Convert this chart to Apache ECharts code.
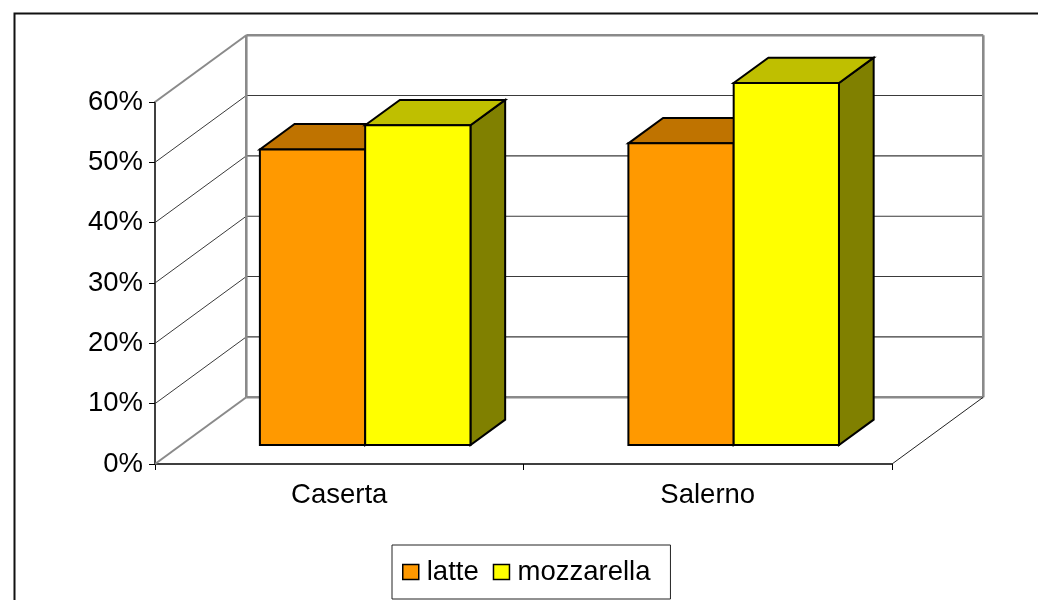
<!DOCTYPE html>
<html>
<head>
<meta charset="utf-8">
<title>latte / mozzarella</title>
<script src="https://cdn.jsdelivr.net/npm/echarts@6/dist/echarts.min.js"></script>
<style>
  html, body { margin: 0; padding: 0; background: #fff; }
  #chart { width: 1038px; height: 600px; }
</style>
</head>
<body>
<div id="chart"></div>
<script>
// Data
const categories = ['Caserta', 'Salerno'];
const latte = [0.49, 0.50];
const mozzarella = [0.53, 0.60];
const yTicks = [0, 0.1, 0.2, 0.3, 0.4, 0.5, 0.6];

// 3D projection: depth vector of the plot box (pixels), and where the bars sit in depth
const DX = 91.3, DY = -66.8;
const BAR_FRONT = 0.284;   // fraction of depth where bar front faces lie
const BAR_DEPTH = 0.38;    // bar thickness as fraction of depth
const GAP = 1.5;           // gap width relative to one bar

const FONT = "'Liberation Sans', Arial, sans-serif";
const FS = 27.5;

const palette = {
  latte: { front: '#FF9900', top: '#BF7300', side: '#804C00' },
  mozzarella: { front: '#FFFF00', top: '#BFBF00', side: '#808000' }
};

const chart = echarts.init(document.getElementById('chart'), null, { renderer: 'canvas' });

function line(x1, y1, x2, y2, color, width) {
  return { type: 'line', shape: { x1, y1, x2, y2 }, style: { stroke: color, lineWidth: width }, silent: true };
}

// Back wall grid lines and side-wall diagonals, one per tick
function renderGrid(params, api) {
  const cs = params.coordSys;
  const v = api.value(1);
  const y = api.coord([0, v])[1];
  const x0 = cs.x, x1 = cs.x + cs.width;
  const edge = (v === yTicks[0] || v === yTicks[yTicks.length - 1]);
  const col = edge ? '#8a8a8a' : '#3a3a3a';
  const w = edge ? 2.4 : 1.1;
  return {
    type: 'group',
    children: [
      line(x0 + DX, y + DY, x1 + DX, y + DY, col, w),
      line(x0, y, x0 + DX, y + DY, col, edge ? 2 : 1)
    ]
  };
}

// Wall outline: back wall vertical edges and floor right edge
function renderWalls(params, api) {
  const cs = params.coordSys;
  const x0 = cs.x, x1 = cs.x + cs.width, yT = cs.y, yB = cs.y + cs.height;
  return {
    type: 'group',
    children: [
      line(x0 + DX, yT + DY, x0 + DX, yB + DY, '#8a8a8a', 2.6),
      line(x1 + DX, yT + DY, x1 + DX, yB + DY, '#8a8a8a', 2.6),
      line(x1, yB, x1 + DX, yB + DY, '#222', 1)
    ]
  };
}

function makeBarRenderer(slot, colors) {
  return function (params, api) {
    const i = api.value(0), v = api.value(1);
    const base = api.coord([i, 0]);
    const top = api.coord([i, v]);
    const catW = api.size([1, 0])[0];
    const bw = catW / (2 + GAP);
    const left = base[0] + (slot === 0 ? -bw : 0) + BAR_FRONT * DX;
    const right = left + bw;
    const yb = base[1] + BAR_FRONT * DY;
    const yt = top[1] + BAR_FRONT * DY;
    const dx = BAR_DEPTH * DX, dy = BAR_DEPTH * DY;
    const stroke = { stroke: '#000', lineWidth: 2, lineJoin: 'miter' };
    return {
      type: 'group',
      children: [
        { type: 'polygon', shape: { points: [[right, yt], [right + dx, yt + dy], [right + dx, yb + dy], [right, yb]] },
          style: Object.assign({ fill: colors.side }, stroke) },
        { type: 'polygon', shape: { points: [[left, yt], [right, yt], [right + dx, yt + dy], [left + dx, yt + dy]] },
          style: Object.assign({ fill: colors.top }, stroke) },
        { type: 'rect', shape: { x: left, y: yt, width: bw, height: yb - yt },
          style: Object.assign({ fill: colors.front }, stroke) }
      ]
    };
  };
}

const option = {
  backgroundColor: '#fff',
  animation: false,
  textStyle: { fontFamily: FONT, color: '#000' },
  graphic: [
    { type: 'rect', left: 12, top: 11, shape: { width: 1060, height: 620 }, silent: true,
      style: { fill: 'none', stroke: '#111', lineWidth: 2 }, z: -10 }
  ],
  grid: { left: 155, right: 146, top: 102, bottom: 136, containLabel: false },
  legend: {
    left: 392, top: 545,
    padding: [9, 20, 9, 10],
    itemWidth: 16, itemHeight: 15, itemGap: 14,
    borderColor: '#222', borderWidth: 1, backgroundColor: '#fff',
    textStyle: { fontFamily: FONT, fontSize: FS, color: '#000', lineHeight: 32, padding: [4, 0, 0, 3] },
    selectedMode: false,
    data: [
      { name: 'latte', icon: 'rect', itemStyle: { color: palette.latte.front, borderColor: '#000', borderWidth: 1.5 } },
      { name: 'mozzarella', icon: 'rect', itemStyle: { color: palette.mozzarella.front, borderColor: '#000', borderWidth: 1.5 } }
    ]
  },
  xAxis: {
    type: 'category',
    data: categories,
    boundaryGap: true,
    axisLine: { lineStyle: { color: '#000', width: 1.5 } },
    axisTick: { show: true, length: 6, lineStyle: { color: '#000' } },
    axisLabel: { fontFamily: FONT, fontSize: FS, color: '#000', margin: 17 },
    splitLine: { show: false }
  },
  yAxis: {
    type: 'value',
    min: 0, max: 0.6, interval: 0.1,
    axisLine: { show: true, lineStyle: { color: '#000', width: 1.5 } },
    axisTick: { show: true, length: 6, lineStyle: { color: '#000' } },
    axisLabel: { fontFamily: FONT, fontSize: FS, color: '#000', margin: 12,
      formatter: v => Math.round(v * 100) + '%' },
    splitLine: { show: false }
  },
  series: [
    { type: 'custom', name: 'grid', renderItem: renderGrid, data: yTicks.map(v => [0, v]), z: 1, silent: true },
    { type: 'custom', name: 'walls', renderItem: renderWalls, data: [[0, 0]], z: 1, silent: true },
    { type: 'custom', name: 'latte', renderItem: makeBarRenderer(0, palette.latte),
      data: categories.map((c, i) => [i, latte[i]]), z: 3 },
    { type: 'custom', name: 'mozzarella', renderItem: makeBarRenderer(1, palette.mozzarella),
      data: categories.map((c, i) => [i, mozzarella[i]]), z: 4 }
  ]
};

chart.setOption(option);
</script>
</body>
</html>
